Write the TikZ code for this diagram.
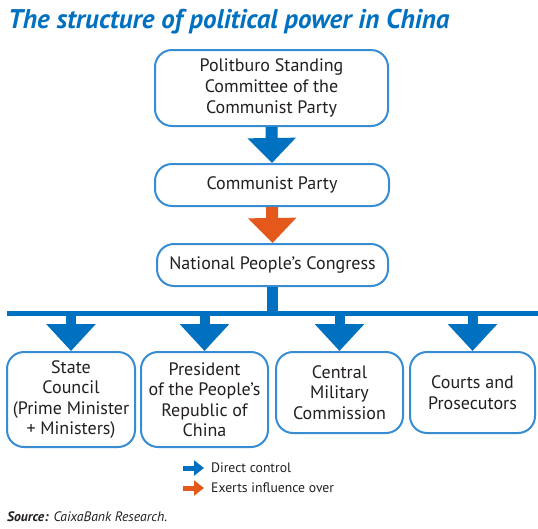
\documentclass[tikz,border=0pt]{standalone}
\usepackage{fontspec}
\setmainfont{PT Sans}
\usetikzlibrary{arrows.meta}
\definecolor{tblue}{RGB}{0,112,192}
\definecolor{bblue}{RGB}{55,140,210}
\definecolor{torange}{RGB}{228,88,28}
\definecolor{txt}{RGB}{35,31,32}
\begin{document}
\begin{tikzpicture}[x=1pt,y=-1pt,
  box/.style={draw=bblue,line width=2pt,rounded corners=17pt,align=center,text=txt,
    font=\fontsize{18}{21}\selectfont,inner sep=0pt},
  mainarrow/.style={line width=12pt,-{Triangle[width=47pt,length=25pt]}},
  subarrow/.style={tblue,line width=10pt,-{Triangle[width=48pt,length=27pt]}},
  legarrow/.style={line width=5pt,-{Triangle[width=15pt,length=10pt]}},
  legtext/.style={anchor=base west,inner sep=0pt,text=txt,font=\fontsize{13.7}{15}\selectfont}]
\useasboundingbox (0,0) rectangle (538,528);
\fill[white] (0,0) rectangle (538,528);

\node[anchor=base west,inner sep=0pt,text=tblue,font=\fontsize{27}{30}\selectfont\bfseries\itshape] (title) at (8,28) {The structure of political power in China};

\node[box,minimum width=233pt,minimum height=76pt] (psc) at (271.5,88) {Politburo Standing\\Committee of the\\Communist Party};
\node[box,minimum width=234pt,minimum height=42pt] (cp) at (272,185) {Communist Party};
\node[box,minimum width=231pt,minimum height=42pt] (npc) at (272.5,265) {National People’s Congress};

\node[box,font=\fontsize{18}{20.5}\selectfont,minimum width=128pt,minimum height=95pt] (b1) at (71,399.5) {State\\Council\\(Prime Minister\\+ Ministers)};
\node[box,font=\fontsize{18}{20.5}\selectfont,minimum width=127pt,minimum height=95pt] (b2) at (204.5,399.5) {President\\of the People’s\\Republic of\\China};
\node[box,font=\fontsize{18}{20.5}\selectfont,minimum width=127pt,minimum height=81pt] (b3) at (339.5,392.5) {Central\\Military\\Commission};
\node[box,font=\fontsize{18}{20.5}\selectfont,minimum width=125pt,minimum height=81pt] (b4) at (472.5,392.5) {Courts and\\Prosecutors};

\draw[mainarrow,tblue] (psc.south) -- (cp.north);
\draw[mainarrow,torange] (cp.south) -- (npc.north);

\coordinate (barL) at (7,313.5);
\coordinate (barR) at (538,313.5);
\draw[tblue,line width=5.5pt] (barL) -- (barR);
\draw[tblue,line width=11pt] (npc.south) -- (npc.south |- barL);

\draw[subarrow] (b1.north |- barL) -- (b1.north);
\draw[subarrow] (b2.north |- barL) -- (b2.north);
\draw[subarrow] (b3.north |- barL) -- (b3.north);
\draw[subarrow] (b4.north |- barL) -- (b4.north);

\coordinate (l1a) at (183,468);
\coordinate (l1b) at (204,468);
\coordinate (l2a) at (183,488);
\coordinate (l2b) at (204,488);
\draw[legarrow,tblue] (l1a) -- (l1b);
\draw[legarrow,torange] (l2a) -- (l2b);
\node[legtext] (lt1) at (211,472.5) {Direct control};
\node[legtext] (lt2) at (211,492.5) {Exerts influence over};

\node[anchor=base west,inner sep=0pt,text=txt,font=\fontsize{13.7}{15}\selectfont\itshape] (src) at (7,521) {\textbf{Source:} CaixaBank Research.};
\end{tikzpicture}
\end{document}
